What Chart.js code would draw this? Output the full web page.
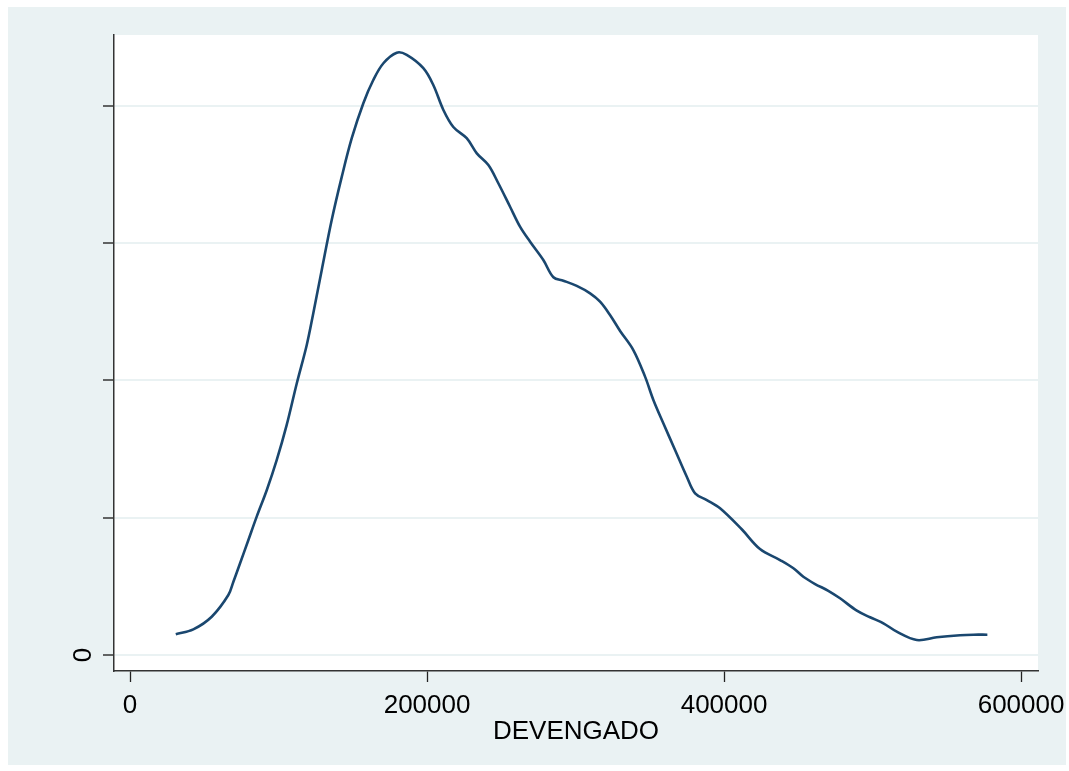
<!DOCTYPE html>
<html>
<head>
<meta charset="utf-8">
<script src="https://cdn.jsdelivr.net/npm/chart.js@4/dist/chart.umd.min.js"></script>
<style>
  html, body { margin: 0; padding: 0; background: #ffffff; }
  canvas { display: block; }
</style>
</head>
<body>
<canvas id="kdensity" width="1069" height="771"></canvas>
<script>
// Valeurs de DEVENGADO (abscisse)
const devengado = [
    30800, 42600, 55000, 66200, 69600, 74100, 79700, 85300, 92100, 98800,
    105500, 112300, 119000, 123400, 129100, 135800, 142600, 149300, 157100, 163800,
    170600, 179600, 186300, 197500, 204200, 211000, 217700, 226700, 233500, 241300,
    248000, 255900, 262600, 269400, 278300, 285100, 291800, 300800, 309800, 316500,
    323200, 330000, 338900, 346800, 352400, 359100, 367000, 374900, 380500, 388400,
    397300, 411900, 424200, 437700, 446700, 453400, 461300, 470200, 478100, 489400,
    498300, 507300, 516300, 529800, 543200, 558900, 567900, 577300
];

// Densité estimée (en unités de 1e-6)
const densidad = [
    0.151, 0.187, 0.279, 0.437, 0.534, 0.668, 0.838, 1.008, 1.202, 1.421,
    1.676, 1.980, 2.259, 2.490, 2.805, 3.169, 3.485, 3.765, 4.020, 4.189,
    4.311, 4.388, 4.372, 4.275, 4.153, 3.971, 3.847, 3.765, 3.655, 3.570,
    3.437, 3.266, 3.121, 3.011, 2.878, 2.752, 2.727, 2.689, 2.635, 2.574,
    2.477, 2.361, 2.222, 2.028, 1.858, 1.688, 1.494, 1.299, 1.178, 1.129,
    1.069, 0.916, 0.772, 0.692, 0.632, 0.570, 0.517, 0.468, 0.413, 0.323,
    0.275, 0.231, 0.170, 0.109, 0.129, 0.144, 0.148, 0.148
];

// Graduations des axes
const xTicks = [0, 200000, 400000, 600000];
const yTicks = [0, 1, 2, 3, 4];
const yTickLabels = ['0', '', '', '', ''];
const xTitle = 'DEVENGADO';

const points = devengado.map((x, i) => ({ x: x, y: densidad[i] }));

const FONT = '"Liberation Sans", Arial, sans-serif';
const BG = '#eaf2f3';

// Fond de type Stata : cadre bleu clair et zone de tracé blanche
const fondPlugin = {
    id: 'fond',
    beforeDraw(chart) {
        const c = chart.ctx;
        const a = chart.chartArea;
        c.save();
        c.fillStyle = '#ffffff';
        c.fillRect(0, 0, chart.width, chart.height);
        c.fillStyle = BG;
        c.fillRect(8, 7, 1058, 758);
        c.fillStyle = '#ffffff';
        c.fillRect(a.left, a.top, a.right - a.left, a.bottom - a.top);
        c.restore();
    },
    afterDraw(chart) {
        // Étiquettes de l'axe Y, tournées comme dans Stata
        const c = chart.ctx;
        const yScale = chart.scales.y;
        c.save();
        c.fillStyle = '#000000';
        c.font = '26px ' + FONT;
        c.textAlign = 'center';
        c.textBaseline = 'middle';
        yTicks.forEach((v, i) => {
            if (!yTickLabels[i]) return;
            const py = yScale.getPixelForValue(v);
            c.save();
            c.translate(84, py);
            c.rotate(-Math.PI / 2);
            c.fillText(yTickLabels[i], 0, 0);
            c.restore();
        });
        c.restore();
    }
};

const chart = new Chart(document.getElementById('kdensity'), {
    type: 'line',
    data: {
        datasets: [{
            data: points,
            borderColor: '#1a476f',
            borderWidth: 2.6,
            pointRadius: 0,
            tension: 0.35,
            fill: false
        }]
    },
    options: {
        responsive: false,
        animation: false,
        layout: {
            padding: { left: 8, right: 31, top: 35, bottom: 0 }
        },
        plugins: {
            legend: { display: false },
            tooltip: { enabled: false }
        },
        scales: {
            x: {
                type: 'linear',
                min: -10800,
                max: 611400,
                afterBuildTicks: (axis) => {
                    axis.ticks = xTicks.map(v => ({ value: v }));
                },
                afterFit: (axis) => {
                    axis.height = 100;
                    axis.paddingLeft = 0;
                    axis.paddingRight = 0;
                },
                grid: {
                    drawOnChartArea: false,
                    drawTicks: true,
                    tickLength: 11,
                    tickColor: '#222222',
                    tickWidth: 1.3
                },
                border: { display: true, color: '#333333', width: 1.5 },
                ticks: {
                    autoSkip: false,
                    maxRotation: 0,
                    minRotation: 0,
                    padding: 8,
                    color: '#000000',
                    font: { family: FONT, size: 26 },
                    callback: (v) => String(v)
                },
                title: {
                    display: true,
                    text: xTitle,
                    color: '#000000',
                    font: { family: FONT, size: 26 },
                    padding: { top: 0, bottom: 24 }
                }
            },
            y: {
                type: 'linear',
                min: -0.1166,
                max: 4.517,
                afterBuildTicks: (axis) => {
                    axis.ticks = yTicks.map(v => ({ value: v }));
                },
                afterFit: (axis) => {
                    axis.width = 106;
                    axis.paddingTop = 0;
                    axis.paddingBottom = 0;
                },
                grid: {
                    color: BG,
                    lineWidth: 2,
                    drawTicks: true,
                    tickLength: 11,
                    tickColor: '#333333',
                    tickWidth: 1.5
                },
                border: { display: true, color: '#333333', width: 1.5 },
                ticks: {
                    display: false
                }
            }
        }
    },
    plugins: [fondPlugin]
});
</script>
</body>
</html>
